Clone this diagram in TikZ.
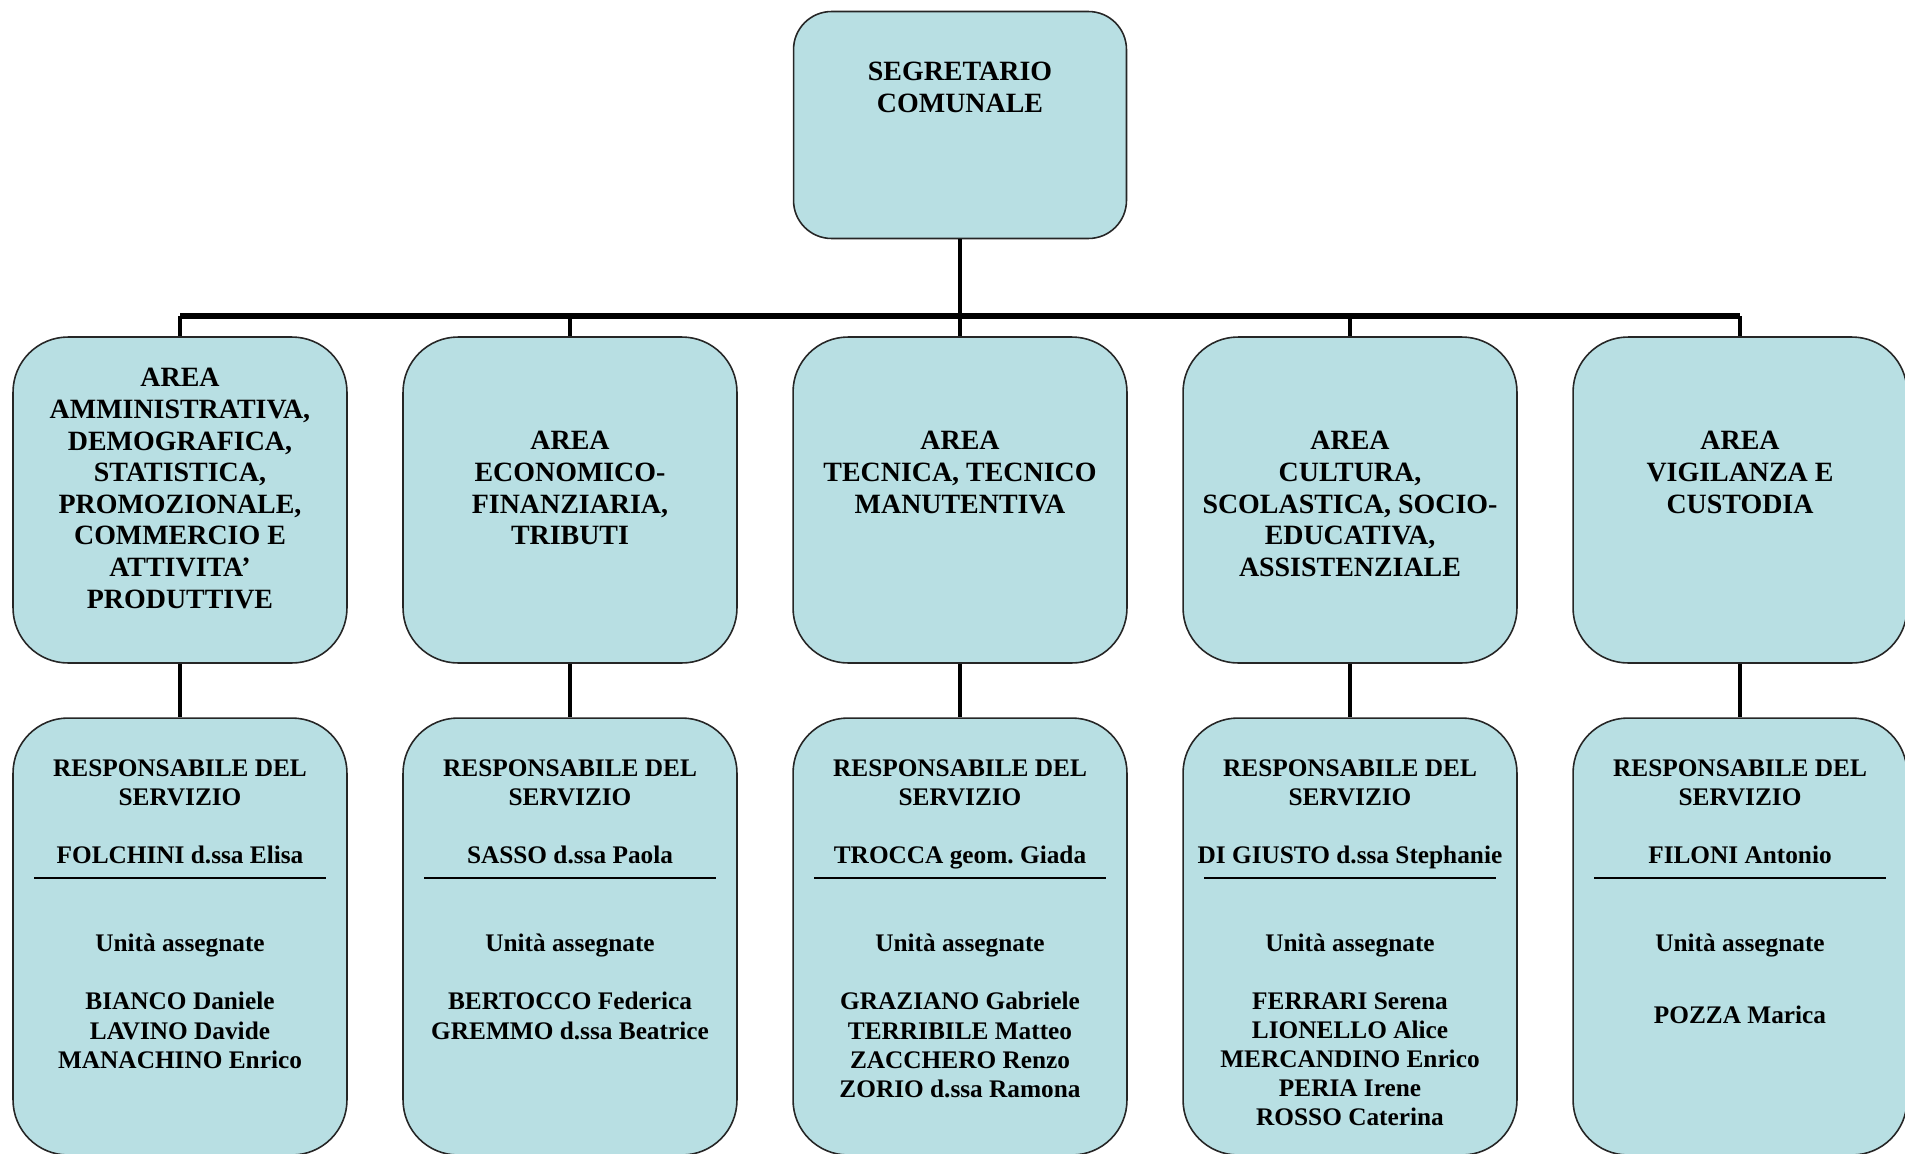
\documentclass[tikz,border=0pt]{standalone}
\usepackage{fontspec}
\setmainfont{Liberation Serif}
\usetikzlibrary{positioning}
\definecolor{areablue}{RGB}{184,223,227}
\frenchspacing

\tikzset{
  box/.style={draw=black!85, line width=0.9pt, fill=areablue, rounded corners=1.1cm,
    minimum width=6.68cm, minimum height=6.52cm, inner sep=0pt},
  headbox/.style={box, rounded corners=0.76cm, minimum width=6.66cm, minimum height=4.54cm},
  respbox/.style={box, minimum height=8.74cm},
  txt/.style={font=\bfseries\fontsize{15.9}{18}\selectfont, align=center, inner sep=0pt, anchor=north},
  resptxt/.style={txt, font=\bfseries\fontsize{14.4}{16.6}\selectfont},
  link/.style={line width=2pt},
  bar/.style={line width=3.6pt},
  drop/.style={line width=2.8pt},
  rule/.style={line width=0.8pt},
}

\begin{document}
\begin{tikzpicture}[x=0.02cm, y=-0.02cm]
    \useasboundingbox (0,0) rectangle (1905,1153);

    % Segretario
    \node[headbox] (seg) at (960,125) {};
    \node[txt] (segtxt) at (960,62) {SEGRETARIO\\COMUNALE};

    % Bar
    \coordinate (barl) at (180,316);
    \coordinate (barr) at (1740,316);
    \draw[bar] (barl) -- (barr);
    \draw[link] (seg.south) -- (seg.south |- barl);

    % Areas and responsabili
    \foreach \i/\x in {1/180,2/570,3/960,4/1350,5/1740} {
        \node[box] (area\i) at (\x,500) {};
        \node[respbox] (resp\i) at (\x,936.5) {};
        \draw[link] (area\i.north) -- (area\i.north |- barl);
        \draw[drop] (area\i.south) -- (resp\i.north);
        \draw[rule] (\x-146,878) -- (\x+146,878);
        \node[resptxt] (head\i) at (\x,759) {RESPONSABILE DEL\\SERVIZIO};
        \node[resptxt] (unit\i) at (\x,934) {Unità assegnate};
    }

    % Area texts
    \node[txt] (area1txt) at (180,368) {AREA\\AMMINISTRATIVA,\\DEMOGRAFICA,\\STATISTICA,\\PROMOZIONALE,\\COMMERCIO E\\ATTIVITA’\\PRODUTTIVE};
    \node[txt] (area2txt) at (570,431) {AREA\\ECONOMICO-\\FINANZIARIA,\\TRIBUTI};
    \node[txt] (area3txt) at (960,431) {AREA\\TECNICA, TECNICO\\MANUTENTIVA};
    \node[txt] (area4txt) at (1350,431) {AREA\\CULTURA,\\SCOLASTICA, SOCIO-\\EDUCATIVA,\\ASSISTENZIALE};
    \node[txt] (area5txt) at (1740,431) {AREA\\VIGILANZA E\\CUSTODIA};

    % Responsabili
    \node[resptxt] (boss1) at (180,846) {FOLCHINI d.ssa Elisa};
    \node[resptxt] (boss2) at (570,846) {SASSO d.ssa Paola};
    \node[resptxt] (boss3) at (960,846) {TROCCA geom. Giada};
    \node[resptxt] (boss4) at (1350,846) {DI GIUSTO d.ssa Stephanie};
    \node[resptxt] (boss5) at (1740,846) {FILONI Antonio};

    % Unita assegnate
    \node[resptxt] (staff1) at (180,992) {BIANCO Daniele\\LAVINO Davide\\MANACHINO Enrico};
    \node[resptxt] (staff2) at (570,992) {BERTOCCO Federica\\GREMMO d.ssa Beatrice};
    \node[resptxt] (staff3) at (960,992) {GRAZIANO Gabriele\\TERRIBILE Matteo\\ZACCHERO Renzo\\ZORIO d.ssa Ramona};
    \node[resptxt] (staff4) at (1350,992) {FERRARI Serena\\LIONELLO Alice\\MERCANDINO Enrico\\PERIA Irene\\ROSSO Caterina};
    \node[resptxt] (staff5) at (1740,1006) {POZZA Marica};

\end{tikzpicture}
\end{document}
